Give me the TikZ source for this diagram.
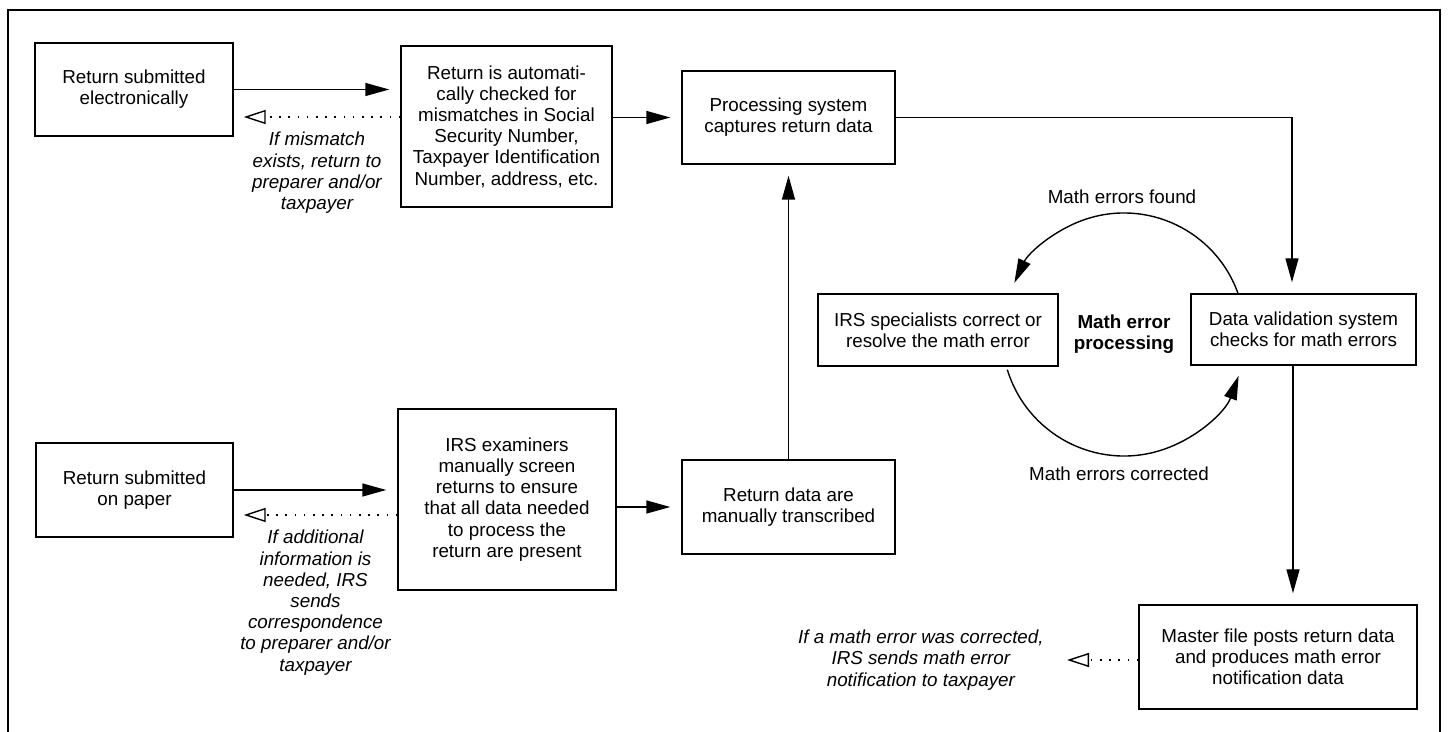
\documentclass[tikz,border=0pt]{standalone}
\usepackage{fontspec}
\setmainfont{Liberation Sans}
\usetikzlibrary{arrows.meta,calc}

\tikzset{
  box/.style={draw, line width=0.7pt, align=center, inner sep=2pt, font=\fontsize{9.4}{10.6}\selectfont},
  note/.style={align=center, font=\fontsize{9.4}{10.6}\selectfont\itshape},
  lbl/.style={align=center, font=\fontsize{9.4}{10.6}\selectfont},
  arr/.style={line width=0.7pt, -{Triangle[length=12pt,width=6.5pt]}, shorten >=5.5pt},
  back/.style={line width=0.7pt, dash pattern=on 0.8pt off 3.8pt, -{Triangle[open,length=11pt,width=7pt]}, shorten >=5pt},
}

\begin{document}
\begin{tikzpicture}[x=0.5pt,y=-0.5pt]
    \useasboundingbox (0,0) rectangle (1448,732);
    % Frame, open at the bottom
    \draw[line width=0.7pt] (8,732) -- (8,10) -- (1440,10) -- (1440,732);

    % Electronic path
    \node[box, minimum width=99pt, minimum height=46.5pt] (elec) at (134,89.5) {Return submitted\\electronically};
    \node[box, minimum width=105.5pt, minimum height=80.5pt] (check) at (506.5,126.5) {Return is automati-\\cally checked for\\mismatches in Social\\Security Number,\\Taxpayer Identification\\Number, address, etc.};
    \node[box, minimum width=106.5pt, minimum height=46.5pt] (capture) at (788.5,117.5) {Processing system\\captures return data};

    % Paper path
    \node[box, minimum width=98.5pt, minimum height=47pt] (paper) at (134.5,490) {Return submitted\\on paper};
    \node[box, minimum width=109pt, minimum height=90.5pt] (screen) at (507,499.5) {IRS examiners\\manually screen\\returns to ensure\\that all data needed\\to process the\\return are present};
    \node[box, minimum width=106.5pt, minimum height=47pt] (transcribe) at (788.5,507) {Return data are\\manually transcribed};

    % Math error processing
    \node[box, minimum width=120pt, minimum height=36pt] (resolve) at (938,330) {IRS specialists correct or\\resolve the math error};
    \node[box, minimum width=112.5pt, minimum height=35.5pt] (validate) at (1303.5,329.5) {Data validation system\\checks for math errors};
    \node[box, minimum width=139pt, minimum height=52pt] (master) at (1278,657) {Master file posts return data\\and produces math error\\notification data};

    \coordinate (loop) at (1124,334);
    \node[lbl, font=\fontsize{9.4}{10.6}\selectfont\bfseries] (mep) at (loop) {Math error\\processing};
    \node[lbl] (found) at (1122,197) {Math errors found};
    \node[lbl] (fixed) at (1119,474) {Math errors corrected};
    \coordinate (notice) at (1057,660);

    % Forward flow
    \draw[arr] (elec.east) -- (check.west |- elec.east);
    \draw[arr] (check.east |- capture.west) -- (capture.west);
    \draw[arr] (paper.east) -- (screen.west |- paper.east);
    \draw[arr] (screen.east |- transcribe.west) -- (transcribe.west);
    \draw[arr] (transcribe.north) -- (capture.south);
    \draw[arr] (capture.east) -| ([xshift=-5.75pt]validate.north);
    \draw[arr] ([xshift=-5.25pt]validate.south) -- ([xshift=-5.25pt]validate.south |- master.north);

    % Returned items
    \draw[back] (check.west |- 0,117) -- node[note, below=4pt] {If mismatch\\exists, return to\\preparer and/or\\taxpayer} (elec.east |- 0,117);
    \draw[back] (screen.west |- 0,515) -- node[note, below=4pt] {If additional\\information is\\needed, IRS\\sends\\correspondence\\to preparer and/or\\taxpayer} (paper.east |- 0,515);
    \draw[back] (master.west |- notice) -- (notice) node[note, left=3pt] {If a math error was corrected,\\IRS sends math error\\notification to taxpayer};

    % Loop between validation and specialists
    \draw[arr, shorten >=0pt] ($(loop)+(19.5:60.5pt)$) arc[start angle=19.5, end angle=155, radius=60.5pt];
    \draw[arr, shorten >=0pt] ($(loop)+(197:61pt)$) arc[start angle=197, end angle=340, radius=61pt];
\end{tikzpicture}
\end{document}
